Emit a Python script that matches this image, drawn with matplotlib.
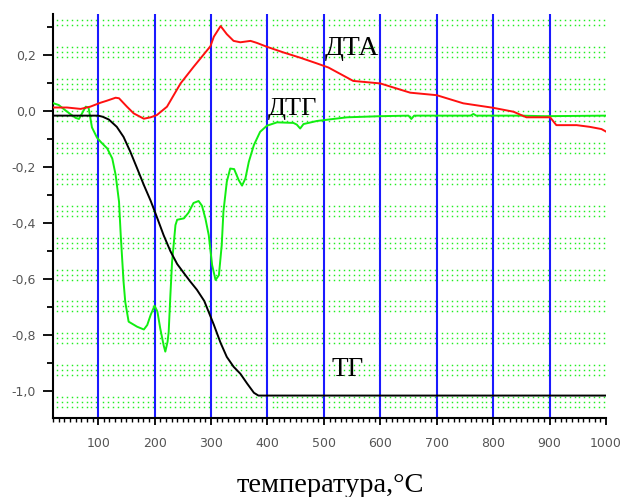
import numpy as np
import matplotlib
matplotlib.use("Agg")
import matplotlib.pyplot as plt
from matplotlib.ticker import MultipleLocator, FuncFormatter

# ---- thermogram curves (temperature, °C) ----

temp_tg = [21, 100, 108, 119, 133, 145, 157, 169, 181, 193, 204, 216, 228, 240,
           251, 263, 275, 288, 298, 305, 317, 328, 340, 352, 364, 376, 384, 1000]
tg = [-0.018, -0.018, -0.022, -0.032, -0.058, -0.094, -0.147, -0.206, -0.266,
      -0.322, -0.38, -0.445, -0.502, -0.548, -0.578, -0.61, -0.64, -0.68, -0.73,
      -0.765, -0.83, -0.88, -0.915, -0.94, -0.975, -1.008, -1.018, -1.018]

temp_dta = [21, 45, 69, 86, 104, 115, 131, 137, 151, 163, 181, 193, 204, 222,
            246, 269, 299, 305, 317, 328, 340, 352, 370, 381, 399, 428, 458,
            487, 508, 552, 600, 653, 700, 747, 800, 836, 859, 889, 901, 912,
            948, 971, 992, 1000]
dta = [0.011, 0.011, 0.006, 0.014, 0.028, 0.035, 0.046, 0.044, 0.014, -0.010,
       -0.029, -0.024, -0.016, 0.014, 0.097, 0.156, 0.23, 0.264, 0.302, 0.273,
       0.249, 0.244, 0.249, 0.242, 0.228, 0.208, 0.189, 0.169, 0.154, 0.106,
       0.097, 0.064, 0.055, 0.026, 0.010, -0.004, -0.024, -0.024, -0.024,
       -0.052, -0.052, -0.058, -0.066, -0.075]

temp_dtg = [21, 30, 45, 60, 66, 78, 83, 89, 98, 106, 116, 125, 131, 137, 140,
            145, 148, 154, 169, 181, 187, 193, 200, 205, 210, 216, 219, 223,
            225, 228, 231, 237, 240, 252, 260, 269, 278, 284, 290, 296, 302,
            308, 314, 319, 322, 328, 334, 341, 349, 355, 361, 367, 376, 387,
            399, 417, 446, 452, 458, 464, 488, 541, 600, 650, 655, 660, 700,
            760, 765, 770, 850, 890, 1000]
dtg = [0.026, 0.02, -0.004, -0.026, -0.03, 0.014, 0.011, -0.06, -0.097, -0.115,
       -0.135, -0.171, -0.23, -0.326, -0.445, -0.611, -0.683, -0.754, -0.772,
       -0.782, -0.766, -0.73, -0.697, -0.718, -0.778, -0.838, -0.861, -0.826,
       -0.79, -0.659, -0.54, -0.409, -0.39, -0.385, -0.365, -0.33, -0.323,
       -0.34, -0.385, -0.445, -0.552, -0.605, -0.588, -0.48, -0.361, -0.254,
       -0.207, -0.209, -0.248, -0.268, -0.242, -0.183, -0.123, -0.076, -0.054,
       -0.042, -0.044, -0.05, -0.064, -0.048, -0.037, -0.024, -0.02, -0.018,
       -0.03, -0.018, -0.018, -0.018, -0.012, -0.018, -0.018, -0.02, -0.018]

x_major = [100, 200, 300, 400, 500, 600, 700, 800, 900, 1000]
curve_labels = ["ДТА", "ДТГ", "ТГ"]
x_label = "температура,°С"

# ---- figure ----

fig = plt.figure(figsize=(6.23, 4.97), dpi=100)
ax = fig.add_axes([0.0851, 0.1596, 0.8876, 0.8122])
ax.set_xlim(20, 1000)
ax.set_ylim(-1.097, 0.345)

# dotted green background grid (bands of three dot rows)
band_centers = 0.322 - 0.1135 * np.arange(13)
rows = (band_centers[:, None] + np.array([-0.018, 0.0, 0.018])[None, :]).ravel()
rows = rows[(rows < 0.337) & (rows > -1.09)]
cols = np.concatenate([a + 9 + 8.8 * np.arange(11) for a in range(0, 1000, 100)])
cols = cols[(cols > 26) & (cols < 1000)]
gx, gy = np.meshgrid(cols, rows)
ax.plot(gx.ravel(), gy.ravel(), ls="none", marker="s", ms=1.05, mew=0,
        color="#22ee22", zorder=1)

# blue verticals at every 100 °C
for xv in x_major[:-1]:
    ax.axvline(xv, color="#1a1aff", lw=1.5, zorder=2)

ax.plot(temp_dtg, dtg, color="#11ee11", lw=1.4, zorder=3)
ax.plot(temp_tg, tg, color="black", lw=1.4, zorder=4)
ax.plot(temp_dta, dta, color="#ff1010", lw=1.4, zorder=5)

serif = "Liberation Serif"
ax.text(502, 0.198, curve_labels[0], fontsize=20, family=serif, va="baseline", zorder=6)
ax.text(401, -0.016, curve_labels[1], fontsize=19, family=serif, va="baseline", zorder=6)
ax.text(514, -0.948, curve_labels[2], fontsize=19.5, family=serif, va="baseline", zorder=6)

fig.text(0.531, 0.024, x_label, fontsize=20.5, family=serif, ha="center", va="center")

# axes styling
for side in ("top", "right"):
    ax.spines[side].set_visible(False)
for side in ("left", "bottom"):
    ax.spines[side].set_linewidth(1.5)

ax.set_xticks(x_major)
ax.xaxis.set_minor_locator(MultipleLocator(10))
ax.yaxis.set_major_locator(MultipleLocator(0.2))
ax.yaxis.set_minor_locator(MultipleLocator(0.1))
ax.yaxis.set_major_formatter(FuncFormatter(lambda v, p: f"{v:.1f}".replace(".", ",").replace("-0,0", "0,0")))

ax.tick_params(axis="x", which="major", length=5, width=1.3, pad=9,
               labelsize=9, labelcolor="#555555")
ax.tick_params(axis="x", which="minor", length=3, width=1)
ax.tick_params(axis="y", which="major", length=7.5, width=1.3, pad=5,
               labelsize=9, labelcolor="#555555")
ax.tick_params(axis="y", which="minor", length=4, width=1.3)

fig.savefig("out.png", dpi=100)
